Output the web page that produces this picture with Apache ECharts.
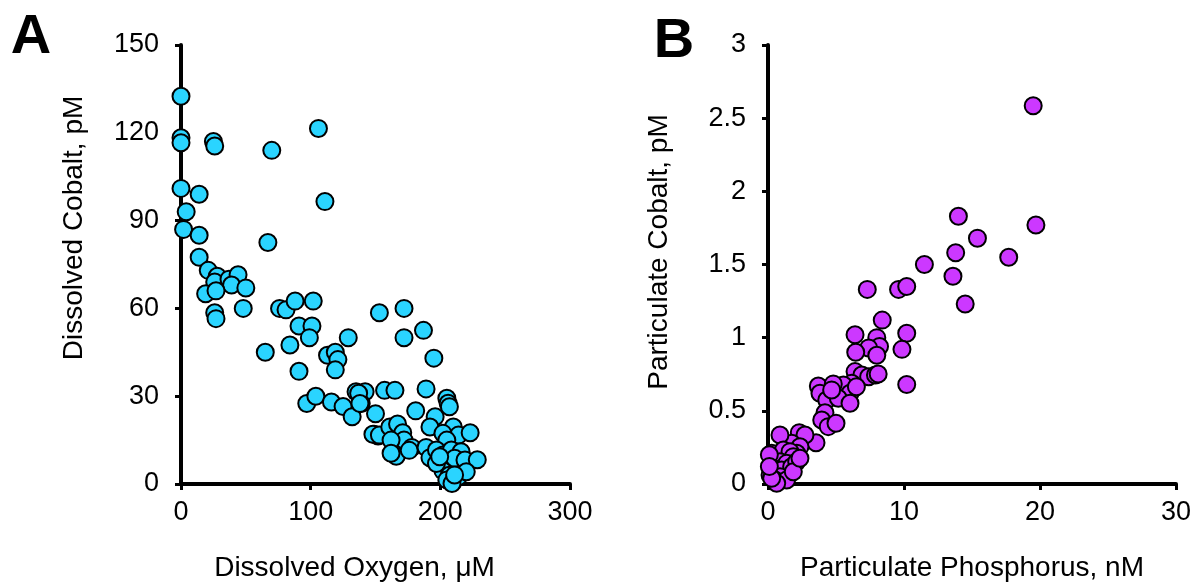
<!DOCTYPE html>
<html>
<head>
<meta charset="utf-8">
<script src="https://cdn.jsdelivr.net/npm/echarts@6/dist/echarts.min.js"></script>
<style>
  html, body { margin: 0; padding: 0; background: #fff; }
  #chart { width: 1196px; height: 588px; }
</style>
</head>
<body>
<div id="chart"></div>
<script>
// panel A: dissolved oxygen (uM) vs dissolved cobalt (pM)
var dissolvedOxygen = [
  0, 0, 0, 25, 26, 70, 106, 0, 14, 4, 111, 2, 14, 67,
  14, 21, 28, 26, 37, 44, 39, 50, 19, 27, 26, 27, 48, 76, 81, 88, 102, 91, 101, 99,
  129, 84, 65, 113, 119, 121, 119, 91, 97, 104, 116, 125, 132, 135, 142, 139, 150, 149, 152,
  153, 172, 172, 187, 195, 189, 205, 206, 207,
  137, 157, 165, 138, 181, 196, 192, 148, 153, 161, 167, 171, 172, 162, 178, 166, 162, 176, 189, 192,
  210, 214, 223, 202, 205, 197, 202, 208.5, 216, 211, 219, 228.5,
  202, 207, 205, 210, 214, 220, 197, 199.5, 209, 211
]
var dissolvedCobalt = [
  132.5, 118.3, 116.6, 117, 115.5, 114, 121.5, 101, 99, 93, 96.5, 87, 85, 82.5,
  77.5, 73, 71, 69, 70, 71.5, 68, 67, 65, 66, 58.5, 56.5, 60, 60, 59.5, 62.5, 62.5, 54, 54, 50,
  50, 47.5, 45, 44, 45, 42.5, 39, 38.5, 27.5, 30, 28, 26.5, 23, 31.5, 31.5, 27.5, 24, 17, 16.4,
  58.5, 60, 50, 52.5, 43, 32.5, 29.3, 27.6, 26.4,
  31, 32, 32, 27.5, 25, 23, 19.5, 17, 16.7, 19.5, 20.5, 17.5, 15, 15, 12.5, 9.5, 10.5, 11.5, 12.5, 9,
  19.5, 16.7, 17.5, 17.3, 15, 11.6, 9.9, 11.6, 11, 8.8, 8.2, 8.3,
  4.5, 3, 1.4, 0.8, 2.5, 4.2, 7, 9.3, 0.2, 3.1
]

// panel B: particulate phosphorus (nM) vs particulate cobalt (pM)
var particulateP = [
  19.5, 14, 19.7, 15.4, 13.8, 17.7, 11.5, 13.6, 14.5, 7.3,
  9.6, 10.2, 8.4, 10.2, 6.4, 8.0, 8.2, 7.4, 8.0, 6.45,
  9.85, 10.2, 6.4, 6.9, 7.4, 7.9, 8.1, 6.15, 5.54, 6.03,
  6.5, 3.7, 4.8, 3.82, 4.32, 5.17, 6.03, 4.68, 4.19, 3.95,
  4.43, 5.0, 3.53, 2.3, 2.72, 1.74, 2.35, 2.11, 0.88, 0.27,
  1.13, 1.62, 1.86, 0.88, 1.375, 0.39, 1.0, 1.74, 2.11, 0.15,
  0.88, 0.51, 1.37, 0.64, 0.27, 1.86, 2.35, 0.1, 0.1
]
var particulateCo = [
  2.585, 1.83, 1.77, 1.68, 1.58, 1.55, 1.50, 1.42, 1.23, 1.33,
  1.33, 1.35, 1.12, 1.03, 1.02, 1.0, 0.94, 0.93, 0.88, 0.90,
  0.92, 0.68, 0.768, 0.745, 0.733, 0.745, 0.752, 0.688, 0.677, 0.62,
  0.665, 0.67, 0.684, 0.62, 0.574, 0.586, 0.552, 0.643, 0.487, 0.437,
  0.392, 0.415, 0.282, 0.351, 0.335, 0.278, 0.255, 0.21, 0.335, 0.21,
  0.232, 0.221, 0.187, 0.152, 0.141, 0.107, 0.096, 0.118, 0.152, 0.062,
  0.05, 0.027, 0.027, 0.005, 0.039, 0.084, 0.176, 0.2, 0.12
]

function zip(xs, ys) {
  return xs.map(function (x, i) { return [x, ys[i]] })
}

var font = '"Liberation Sans", Arial, Helvetica, sans-serif'

function valueAxis(idx, min, max, interval, extra) {
  var ax = {
    type: 'value',
    gridIndex: idx,
    min: min,
    max: max,
    interval: interval,
    splitLine: { show: false },
    axisLine: { show: true, lineStyle: { color: '#000', width: 4 } },
    axisTick: { show: true, inside: false, length: 6, lineStyle: { color: '#000', width: 3 } },
    axisLabel: { color: '#000', fontSize: 27, fontFamily: font },
  }
  return Object.assign(ax, extra)
}

var myChart = echarts.init(document.getElementById('chart'))

var option = {
  animation: false,
  backgroundColor: '#fff',
  grid: [
    { left: 181, width: 389, top: 45, height: 439 },
    { left: 768, width: 408, top: 45, height: 439 },
  ],
  xAxis: [
    valueAxis(0, 0, 300, 100, {
      name: 'Dissolved Oxygen, μM',
      nameLocation: 'middle',
      nameGap: 70,
      nameTextStyle: { color: '#000', fontSize: 28, fontFamily: font, padding: [0, 42, 0, 0] },
      axisLabel: { color: '#000', fontSize: 27, fontFamily: font, margin: 15 },
    }),
    valueAxis(1, 0, 30, 10, {
      name: 'Particulate Phosphorus, nM',
      nameLocation: 'middle',
      nameGap: 70,
      nameTextStyle: { color: '#000', fontSize: 28, fontFamily: font },
      axisLabel: { color: '#000', fontSize: 27, fontFamily: font, margin: 15 },
    }),
  ],
  yAxis: [
    valueAxis(0, 0, 150, 30, {
      axisLabel: { color: '#000', fontSize: 27, fontFamily: font, margin: 22 },
    }),
    valueAxis(1, 0, 3, 0.5, {
      axisLabel: { color: '#000', fontSize: 27, fontFamily: font, margin: 22 },
    }),
  ],
  graphic: [
    {
      type: 'text', x: 74, y: 228, rotation: Math.PI / 2,
      style: { text: 'Dissolved Cobalt, pM', font: '28px ' + font, fill: '#000', align: 'center', verticalAlign: 'middle' },
    },
    {
      type: 'text', x: 659, y: 252, rotation: Math.PI / 2,
      style: { text: 'Particulate Cobalt, pM', font: '28px ' + font, fill: '#000', align: 'center', verticalAlign: 'middle' },
    },
    {
      type: 'text', x: 31, y: 38,
      style: { text: 'A', font: 'bold 56px ' + font, fill: '#000', align: 'center', verticalAlign: 'middle' },
    },
    {
      type: 'text', x: 674, y: 42,
      style: { text: 'B', font: 'bold 56px ' + font, fill: '#000', align: 'center', verticalAlign: 'middle' },
    },
  ],
  series: [
    {
      type: 'scatter',
      xAxisIndex: 0,
      yAxisIndex: 0,
      clip: false,
      symbolSize: 17,
      itemStyle: { color: '#2AD4FF', borderColor: '#000', borderWidth: 2, opacity: 1 },
      data: zip(dissolvedOxygen, dissolvedCobalt),
    },
    {
      type: 'scatter',
      xAxisIndex: 1,
      yAxisIndex: 1,
      clip: false,
      symbolSize: 17,
      itemStyle: { color: '#CC38FF', borderColor: '#000', borderWidth: 2, opacity: 1 },
      data: zip(particulateP, particulateCo),
    },
  ],
}

myChart.setOption(option)
</script>
</body>
</html>
